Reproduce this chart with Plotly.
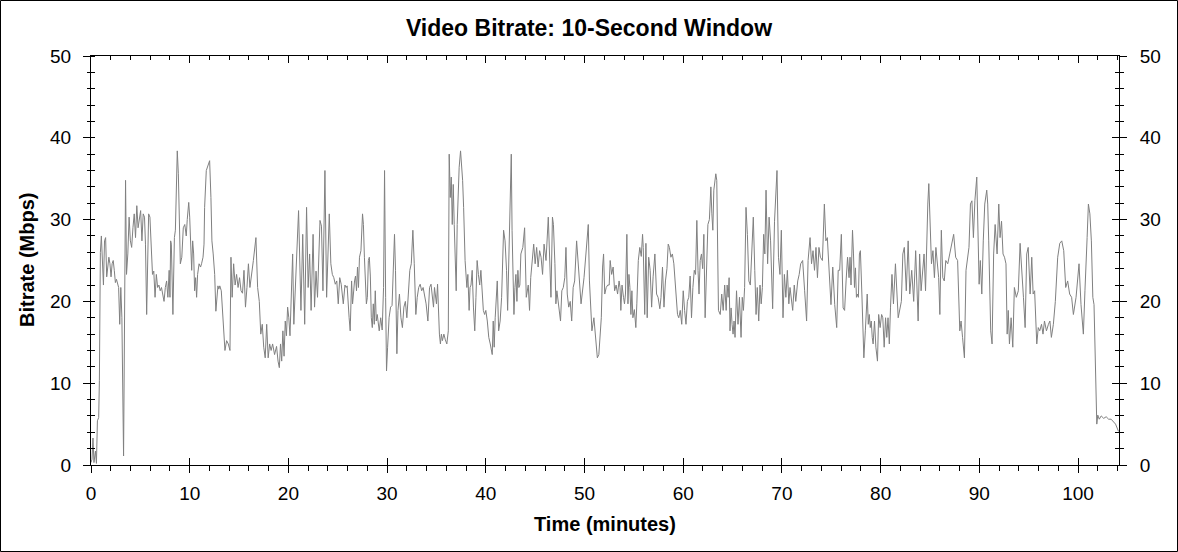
import plotly.graph_objects as go

# (minute, Mbps) samples, in segments
seg_a = [
    (0.0, 0.3), (0.1, 0.7), (0.2, 3.3), (0.3, 0.3), (0.45, 1.7), (0.55, 0.2), (0.65, 5.4), (0.78, 5.8),
    (0.85, 10.3), (0.95, 26), (1.05, 28), (1.15, 25), (1.26, 22), (1.37, 27.4), (1.48, 27.8), (1.59, 23),
    (1.7, 24.6), (1.81, 25.4), (1.92, 24.6), (2.03, 23), (2.14, 24.6), (2.25, 25), (2.36, 23.8), (2.47, 22.3),
    (2.58, 22.7), (2.69, 22), (2.8, 21.7), (2.91, 17.2), (3.02, 21.7), (3.13, 18), (3.3, 1.1), (3.5, 34.8),
    (3.6, 23.3), (3.73, 25.8), (3.86, 30.3), (3.99, 27.4), (4.12, 26.6), (4.25, 29), (4.38, 30.7), (4.51, 27.8),
    (4.64, 31.7), (4.77, 29), (4.9, 30.3), (5.03, 31.1), (5.16, 27.4), (5.29, 30.7), (5.42, 30.3), (5.52, 27),
    (5.64, 18.4), (5.84, 30.7), (5.97, 30.3), (6.1, 27.4), (6.23, 23.3), (6.36, 23.7), (6.49, 20.5), (6.62, 23.3),
    (6.75, 21.7), (6.88, 22), (7.01, 21.3), (7.14, 21.7), (7.27, 20.9), (7.4, 20), (7.53, 21.7), (7.66, 22.5),
    (7.79, 20.5), (7.92, 23.8), (8.0, 20.5), (8.07, 27.4), (8.14, 27), (8.3, 18.4), (8.45, 27.8), (8.55, 28.7),
    (8.65, 32.7), (8.74, 38.4), (8.85, 35.6), (8.95, 27.8), (9.05, 24.6), (9.2, 25.4), (9.35, 29), (9.5, 29.4),
    (9.65, 28), (9.75, 30), (9.9, 32.1), (10.0, 30.3), (10.1, 25.4), (10.2, 23.8), (10.3, 27.4), (10.4, 25.8),
    (10.5, 21.3), (10.6, 22.9), (10.7, 20.5), (10.8, 23.3), (10.95, 24.6), (11.1, 24.2), (11.2, 24.6), (11.35, 25.4),
    (11.45, 27), (11.51, 31.5), (11.68, 36), (11.92, 36.8), (12.02, 37.2), (12.15, 32.7), (12.25, 27.4), (12.38, 25.8),
    (12.53, 23.3), (12.65, 18.8), (12.76, 21), (12.86, 21.9), (12.95, 21.5), (13.05, 21.9), (13.2, 21.3), (13.4, 16.8),
    (13.57, 14), (13.74, 15.2), (13.91, 14.8), (14.08, 14), (14.18, 25.4), (14.3, 20.5), (14.45, 24.6), (14.6, 22),
    (14.75, 23.3), (14.9, 21.7), (15.05, 22.9), (15.2, 21.3), (15.35, 21), (15.5, 23.8), (15.65, 19.3), (15.8, 21.7),
    (15.95, 24.6), (16.1, 21.7), (16.25, 23.5), (16.45, 25), (16.71, 27.8), (16.88, 21.7), (17.05, 20), (17.2, 16),
    (17.35, 17.2), (17.5, 14.4), (17.65, 13.1), (17.8, 17.2), (17.95, 13.1), (18.1, 14.8), (18.25, 14), (18.4, 14.8),
    (18.6, 13.5), (18.8, 14.5), (18.95, 12.7), (19.08, 11.9), (19.2, 14.8), (19.32, 12.7), (19.44, 16.4), (19.56, 13.3),
    (19.68, 17.6), (19.8, 15.8), (19.92, 19.3), (20.04, 18), (20.16, 15.8),
]
seg_b = [
    (20.28, 21.3), (20.43, 25.8), (20.55, 17.2), (20.7, 21.3), (20.85, 27.4), (21.03, 31.1), (21.27, 18.9),
    (21.45, 28.2), (21.65, 17.2), (21.84, 31.5), (22.0, 21.7), (22.15, 25.8), (22.3, 18.9), (22.5, 28.2),
    (22.65, 19.3), (22.8, 23.7), (22.95, 20.5), (23.2, 29.9), (23.35, 29.2), (23.5, 21.3), (23.7, 36), (23.87, 20.5),
    (24.14, 30.7), (24.3, 24.6), (24.45, 23.3), (24.6, 22.9), (24.75, 22.1), (24.9, 22.5), (25.05, 19.7), (25.2, 22.9),
    (25.35, 22.1), (25.56, 19.7), (25.73, 22), (25.85, 21.7), (25.95, 21.9), (26.05, 19.2), (26.15, 18), (26.26, 16.4),
    (26.4, 22.5), (26.5, 19.7), (26.6, 21.7), (26.7, 22.5), (26.8, 23.1), (26.9, 21.3), (27.0, 24.2), (27.1, 21.7),
    (27.2, 25.4), (27.35, 26.2), (27.51, 30.7), (27.6, 29.4), (27.7, 25.4), (27.8, 23.1), (27.9, 19.7), (28.0, 20.5),
    (28.1, 25), (28.2, 25.4), (28.3, 23.1), (28.4, 18), (28.5, 16.8), (28.6, 19.7), (28.7, 17.2), (28.8, 21.3),
    (28.9, 17.6), (29.0, 18.4), (29.1, 17.2), (29.2, 16.4), (29.35, 18), (29.5, 16.5), (29.64, 21.7), (29.74, 36),
    (29.85, 20.5), (29.94, 11.5), (30.05, 14.4), (30.2, 18), (30.35, 19.3), (30.5, 19.5), (30.75, 28.2), (30.85, 23.8),
    (30.99, 13.6), (31.1, 18.9), (31.25, 20.9), (31.4, 18), (31.55, 16.8), (31.7, 19.3), (31.85, 20), (32.0, 18),
    (32.15, 20.9), (32.3, 23.8), (32.45, 24.6), (32.61, 28.7), (32.75, 24.6), (32.91, 18.4), (33.05, 20.5), (33.2, 21.7),
    (33.35, 22.1), (33.5, 21.3), (33.65, 21.7), (33.8, 20.9), (33.95, 19.7), (34.13, 17.6), (34.3, 21.7), (34.45, 22.1),
    (34.6, 20.5), (34.7, 19.3), (34.8, 21.7), (34.9, 20.5), (35.0, 19.7), (35.11, 22.1), (35.2, 18.9), (35.3, 16),
    (35.4, 14.8), (35.5, 16), (35.6, 15.2), (35.75, 16), (35.9, 15.3), (36.05, 14.8), (36.2, 16.4), (36.29, 38),
    (36.4, 32.7), (36.5, 35.2), (36.6, 29.4), (36.7, 34.3), (36.8, 29.4), (37.0, 21.3), (37.1, 29.4), (37.2, 32.7),
    (37.3, 36.4), (37.44, 38.4), (37.55, 36.8), (37.65, 34.8), (37.75, 31.5), (37.9, 25), (38.08, 21.7), (38.18, 23.3),
    (38.31, 18.9), (38.4, 21.7), (38.5, 22), (38.62, 23.8), (38.75, 19.2), (38.88, 16.4), (39.0, 20.5), (39.12, 25),
    (39.25, 23.3), (39.38, 22), (39.5, 23.8), (39.62, 20.9), (39.75, 18.9), (39.88, 18.4),
]
seg_c = [
    (40.0, 18.9), (40.15, 17.6), (40.3, 15.6), (40.45, 14.8), (40.65, 13.5), (40.75, 17.6), (40.85, 14.4), (40.95, 18),
    (41.16, 22.5), (41.3, 16.4), (41.45, 17.6), (41.6, 20.5), (41.8, 28.7), (41.95, 27.4), (42.1, 23.8), (42.21, 18.9),
    (42.3, 23.8), (42.4, 26.2), (42.58, 38), (42.66, 28.7), (42.75, 21.3), (42.85, 18.4), (42.95, 21.7), (43.05, 23.3),
    (43.15, 20), (43.25, 23.8), (43.35, 21.7), (43.45, 22), (43.55, 25.8), (43.75, 26.6), (43.93, 29), (44.1, 20.5),
    (44.3, 22), (44.43, 18.9), (44.55, 22.9), (44.7, 25.4), (44.85, 27), (45.0, 24.6), (45.15, 26.6), (45.3, 24.2),
    (45.45, 26.2), (45.6, 25.4), (45.75, 23.3), (45.9, 27), (46.1, 25), (46.33, 30.3), (46.45, 26.2), (46.6, 20.5),
    (46.75, 30.3), (46.85, 29.4), (47.0, 24.6), (47.1, 19.7), (47.2, 21.3), (47.35, 19.7), (47.57, 17.6), (47.7, 21.3),
    (47.85, 21.7), (48.0, 22.9), (48.12, 26.6), (48.25, 20.9), (48.4, 19.3), (48.55, 20), (48.7, 17.6), (48.85, 21.7),
    (49.0, 22.5), (49.2, 27.4), (49.4, 24.2), (49.65, 19.7), (49.95, 22.9), (50.2, 26.6), (50.38, 29.4), (50.5, 22.5),
    (50.75, 16.4), (50.95, 18), (51.1, 15.6), (51.3, 13.1), (51.45, 13.5), (51.6, 15.6), (51.7, 18), (51.83, 24.2),
    (51.93, 25.8), (52.05, 20.9), (52.2, 21.7), (52.35, 22), (52.5, 22), (52.6, 25), (52.75, 23.3), (52.9, 24.2),
    (53.05, 21.3), (53.2, 22), (53.35, 20.9), (53.5, 22.5), (53.6, 21.7), (53.68, 18.9), (53.8, 22), (53.95, 20.5),
    (54.05, 19.7), (54.15, 20.9), (54.29, 28.2), (54.4, 19.7), (54.5, 23.3), (54.6, 21.7), (54.7, 18.4), (54.8, 21.3),
    (54.9, 18), (55.05, 19), (55.2, 16.8), (55.3, 19.7), (55.45, 25), (55.6, 26.6), (55.75, 25.5), (55.88, 28.2),
    (55.95, 26.6), (56.1, 18.4), (56.22, 27.1), (56.35, 18), (56.5, 25.4), (56.65, 23.8), (56.8, 19.3), (56.95, 23),
    (57.13, 25.8), (57.3, 20.9), (57.45, 20.5), (57.63, 19.1), (57.75, 20.5), (57.9, 24.2), (58.05, 19.3), (58.2, 22.5),
    (58.35, 24), (58.48, 27), (58.6, 26.6), (58.75, 25.4), (58.9, 25.8), (59.05, 24.6), (59.2, 22), (59.42, 18.4),
    (59.55, 18), (59.7, 18.9), (59.85, 17.2),
]
seg_d = [
    (60.0, 21.3), (60.14, 18.9), (60.28, 17.2), (60.42, 20), (60.56, 20.5), (60.7, 23.1), (60.84, 18), (60.98, 21.7),
    (61.12, 23.8), (61.25, 23.3), (61.38, 29.9), (61.5, 23.8), (61.6, 20.9), (61.72, 25), (61.85, 25.8), (61.97, 24),
    (62.09, 28.2), (62.22, 18), (62.35, 24.6), (62.5, 29.4), (62.65, 30), (62.8, 34), (62.9, 30.7), (63.0, 28.7),
    (63.1, 33.6), (63.3, 35.6), (63.4, 34.8), (63.48, 25.4), (63.57, 18.9), (63.75, 18.4), (63.9, 20.9), (64.05, 18.9),
    (64.2, 22), (64.35, 18.9), (64.45, 22), (64.55, 20.5), (64.65, 22.9), (64.74, 16.4), (64.85, 19.2), (64.95, 17.2),
    (65.05, 16), (65.15, 17.6), (65.25, 15.6), (65.4, 21.3), (65.55, 17.2), (65.7, 20.5), (65.86, 15.6), (65.98, 20.5),
    (66.1, 18.9), (66.22, 21.7), (66.36, 31.5), (66.5, 28.2), (66.65, 22.5), (66.8, 22), (66.95, 25.4), (67.1, 30.3),
    (67.25, 23.8), (67.38, 18.4), (67.5, 21.7), (67.65, 17.6), (67.78, 22), (67.9, 19.7), (68.02, 21.7), (68.15, 28.2),
    (68.27, 25.8), (68.39, 33.6), (68.55, 24.6), (68.7, 30.3), (68.85, 27.4), (69.06, 19.1), (69.25, 29.8), (69.4, 34.8),
    (69.5, 36), (69.65, 25.4), (69.8, 23.3), (69.94, 28.7), (70.11, 18), (70.25, 23.3), (70.4, 20.5), (70.55, 23.8),
    (70.7, 19.7), (70.82, 21.7), (70.95, 20.5), (71.09, 18.9), (71.25, 22), (71.4, 20), (71.6, 22.5), (71.75, 23.3),
    (71.9, 24.6), (72.1, 25), (72.3, 21.3), (72.5, 17.6), (72.65, 25), (72.85, 27.8), (73.0, 24.6), (73.15, 26.2),
    (73.3, 23.8), (73.45, 26.6), (73.6, 22.9), (73.75, 26.6), (73.9, 25.4), (74.1, 25), (74.3, 31.9), (74.45, 27.4),
    (74.6, 27.8), (74.75, 24.2), (74.85, 23.3), (74.97, 19.6), (75.15, 24.2), (75.35, 19.6), (75.55, 16.8), (75.7, 23.8),
    (75.85, 23.8), (76.02, 28.2), (76.2, 19.2), (76.35, 18.9), (76.5, 22.5), (76.65, 25.4), (76.8, 22.9), (76.9, 25.4),
    (77.0, 22), (77.15, 28.7), (77.25, 25.8), (77.35, 21.7), (77.45, 24.1), (77.55, 20.5), (77.65, 20.9), (77.75, 20.5),
    (77.85, 25.8), (77.95, 26.2), (78.1, 20.9), (78.3, 13.1), (78.45, 16.4), (78.64, 20.9), (78.75, 17.2), (78.85, 18.4),
    (78.95, 16.8), (79.05, 17.6), (79.15, 15.6), (79.24, 14.8), (79.38, 17.6), (79.52, 14.4), (79.68, 12.7), (79.8, 18.4),
    (79.95, 16.8),
]
seg_e = [
    (80.1, 18.4), (80.22, 18), (80.36, 14.4), (80.5, 18), (80.62, 15.6), (80.75, 18), (80.88, 14.8), (81.0, 19.3),
    (81.15, 23.3), (81.3, 19.7), (81.5, 24.6), (81.78, 18), (81.95, 18.9), (82.1, 20), (82.25, 25.8), (82.4, 26.6),
    (82.6, 21.3), (82.79, 27.4), (82.95, 20.9), (83.15, 23.8), (83.35, 20), (83.55, 26.2), (83.8, 17.6), (83.95, 25.8),
    (84.1, 21.3), (84.25, 23.3), (84.4, 25.8), (84.55, 21.3), (84.65, 26.6), (84.78, 31.9), (84.88, 34.4), (85.0, 30.3),
    (85.15, 24.6), (85.3, 26.2), (85.45, 22.9), (85.6, 26.6), (85.75, 24.6), (85.88, 22.9), (86.0, 18.4), (86.15, 28.7),
    (86.3, 22.9), (86.45, 22.5), (86.6, 25), (86.8, 24.6), (87.0, 25.8), (87.2, 27), (87.4, 28.2), (87.6, 25.4),
    (87.8, 25), (88.02, 16.4), (88.15, 17.6), (88.3, 15.6), (88.49, 13.1), (88.65, 23.8), (88.8, 25), (88.95, 26.6),
    (89.1, 31.9), (89.25, 32.3), (89.4, 27.8), (89.55, 32.3), (89.74, 35.2), (89.85, 28.7), (89.98, 22.1), (90.1, 25),
    (90.25, 20.9), (90.4, 27.4), (90.55, 31.9), (90.75, 33.6), (90.85, 31.9), (90.95, 27.4), (91.05, 18.9), (91.15, 16.4),
    (91.29, 14.8), (91.45, 25.8), (91.6, 29.4), (91.8, 25.8), (91.97, 31.9), (92.1, 27.8), (92.25, 29.8), (92.4, 25.8),
    (92.55, 25.4), (92.7, 24.6), (92.82, 16), (92.93, 18.9), (93.05, 14.8), (93.22, 18), (93.39, 14.4), (93.55, 21.7),
    (93.75, 20.5), (93.95, 21.3), (94.13, 27.1), (94.3, 24.2), (94.47, 20.5), (94.64, 16.8), (94.8, 25.8), (94.95, 26.6),
    (95.15, 20.9), (95.31, 25.4), (95.45, 20.9), (95.6, 21.3), (95.7, 18), (95.82, 14.8), (95.97, 16.8), (96.12, 16.4),
    (96.3, 17.2), (96.45, 16), (96.6, 17.6), (96.8, 16.4), (97.0, 17.2), (97.15, 17.6), (97.3, 15.6), (97.5, 17.2),
    (97.7, 20), (97.94, 25.4), (98.15, 27.1), (98.35, 27.4), (98.55, 26.2), (98.75, 21.7), (98.95, 22.5), (99.15, 20.9),
    (99.35, 20.5), (99.53, 18.4), (99.8, 20.5), (100.1, 24.6), (100.3, 19.6), (100.54, 16), (100.7, 21.3), (100.8, 25.4),
    (100.92, 27.8), (101.05, 31.9), (101.2, 30.7), (101.35, 27.4), (101.5, 20.5), (101.62, 19.6), (101.73, 14.4),
    (101.9, 5.0), (102.0, 6.1), (102.15, 5.6), (102.35, 6.0), (102.6, 5.7), (102.85, 5.9), (103.1, 5.6), (103.35, 5.6),
    (103.6, 5.3), (103.8, 5.0), (104.1, 4.1),
]

x_ticks = [0, 10, 20, 30, 40, 50, 60, 70, 80, 90, 100]
y_ticks = [0, 10, 20, 30, 40, 50]
X_RANGE = [0, 104.15]
Y_RANGE = [0, 50]

samples = seg_a + seg_b + seg_c + seg_d + seg_e
minutes = [p[0] for p in samples]
mbps = [p[1] for p in samples]

W, H = 1178, 552
L, R, T, B = 91, 59, 56, 87
PW, PH = W - L - R, H - T - B
FONT = "Liberation Sans, Arial, sans-serif"

fig = go.Figure()
fig.add_trace(go.Scatter(x=minutes, y=mbps, mode="lines", line=dict(color="#808080", width=1),
                         showlegend=False, hoverinfo="skip", xaxis="x", yaxis="y"))
for xa, ya in [("x2", "y2"), ("x3", "y3"), ("x2", "y4")]:
    fig.add_trace(go.Scatter(x=[None], y=[None], mode="lines", showlegend=False,
                             hoverinfo="skip", xaxis=xa, yaxis=ya))

common = dict(showgrid=False, zeroline=False, tickcolor="black", linecolor="black", linewidth=1, tickwidth=1)
xcommon = dict(range=X_RANGE, tickmode="array", tickvals=x_ticks, **common)
ycommon = dict(range=Y_RANGE, tickmode="array", tickvals=y_ticks, **common)

fig.update_layout(
    width=W, height=H,
    margin=dict(l=L, r=R, t=T, b=B, pad=0),
    paper_bgcolor="white", plot_bgcolor="white",
    font=dict(family=FONT, color="black"),
    title=dict(text="<b>Video Bitrate: 10-Second Window</b>", x=0.5, xanchor="center",
               y=1 - 28 / H, yanchor="middle", font=dict(size=23, family=FONT, color="black")),
    xaxis=dict(side="bottom", anchor="y", showline=True, ticks="outside", ticklen=7,
               ticktext=[str(v) for v in x_ticks],
               minor=dict(dtick=2, tick0=0, ticks="outside", ticklen=5, tickcolor="black"),
               tickfont=dict(size=19), ticklabelstandoff=4, **xcommon),
    xaxis2=dict(overlaying="x", side="bottom", anchor="y", showline=False, ticks="inside", ticklen=7,
                showticklabels=False, **xcommon),
    xaxis3=dict(overlaying="x", side="top", anchor="y", showline=True, ticks="inside", ticklen=7,
                minor=dict(dtick=2, tick0=0, ticks="inside", ticklen=4, tickcolor="black"),
                showticklabels=False, **xcommon),
    yaxis=dict(side="left", anchor="x", showline=True, ticks="outside", ticklen=7,
               minor=dict(dtick=2, tick0=0, ticks="outside", ticklen=3, tickcolor="black"),
               tickfont=dict(size=19), ticklabelstandoff=8, **ycommon),
    yaxis2=dict(overlaying="y", side="left", anchor="x", showline=False, ticks="",
                minor=dict(dtick=2, tick0=0, ticks="inside", ticklen=4, tickcolor="black"),
                showticklabels=False, **ycommon),
    yaxis3=dict(overlaying="y", side="right", anchor="x", showline=True, ticks="outside", ticklen=7,
                minor=dict(dtick=2, tick0=0, ticks="outside", ticklen=4, tickcolor="black"),
                tickfont=dict(size=19), ticklabelstandoff=9, **ycommon),
    yaxis4=dict(overlaying="y", side="right", anchor="x", showline=False, ticks="inside", ticklen=7,
                minor=dict(dtick=2, tick0=0, ticks="inside", ticklen=4, tickcolor="black"),
                showticklabels=False, **ycommon),
    annotations=[
        dict(text="<b>Time (minutes)</b>", xref="paper", yref="paper", x=0.5, y=-(524 - (T + PH)) / PH,
             xanchor="center", yanchor="middle", showarrow=False, font=dict(size=20, family=FONT, color="black")),
        dict(text="<b>Bitrate (Mbps)</b>", xref="paper", yref="paper", x=(27 - L) / PW, y=0.5 - (260 - (T + PH / 2)) / PH,
             xanchor="center", yanchor="middle", textangle=-90, showarrow=False,
             font=dict(size=20, family=FONT, color="black")),
    ],
    shapes=[dict(type="rect", xref="paper", yref="paper",
                 x0=(-L + 0.5) / PW, x1=(PW + R - 0.5) / PW,
                 y0=(-B + 0.5) / PH, y1=(PH + T - 0.5) / PH,
                 line=dict(color="black", width=1), fillcolor="rgba(0,0,0,0)", layer="above")],
)

fig.write_html("out.html", config={"displayModeBar": False, "staticPlot": True},
               post_script="document.body.style.margin='0';document.body.style.overflow='hidden';")
